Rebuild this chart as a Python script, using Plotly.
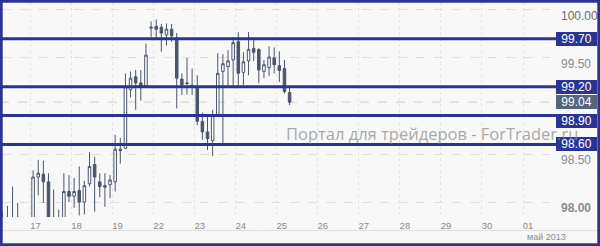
import plotly.graph_objects as go

# ---------------- data ----------------
OPEN = [97.82, 97.76, 97.80, 97.82, 97.78, 97.68, 97.76, 98.26, 98.29, 98.21,
        97.80, 97.78, 97.75, 98.11, 98.06, 98.12, 98.00, 98.19, 98.39, 98.21,
        98.17, 98.18, 98.21, 98.55, 98.56, 99.17, 99.305, 99.24, 99.21, 99.81,
        99.83, 99.82, 99.74, 99.80, 99.71, 99.28, 99.24, 99.215, 99.20, 98.84,
        98.73, 98.64, 98.90, 99.36, 99.41, 99.48, 99.67, 99.35, 99.47, 99.60,
        99.59, 99.36, 99.40, 99.50, 99.42, 99.39, 99.14]
HIGH = [97.90, 97.96, 98.16, 97.99, 97.82, 97.80, 98.33, 98.44, 98.43, 98.30,
        98.13, 97.92, 98.30, 98.28, 98.25, 98.37, 98.22, 98.52, 98.47, 98.30,
        98.30, 98.28, 98.70, 98.67, 99.34, 99.36, 99.375, 99.375, 99.65, 99.88,
        99.90, 99.855, 99.86, 99.855, 99.76, 99.34, 99.50, 99.39, 99.32, 98.93,
        98.90, 98.96, 99.55, 99.54, 99.58, 99.715, 99.77, 99.56, 99.77, 99.70,
        99.60, 99.48, 99.62, 99.61, 99.57, 99.48, 99.19]
LOW = [97.70, 97.70, 97.74, 97.72, 97.62, 97.60, 97.72, 98.07, 97.99, 97.70,
       97.70, 97.66, 97.72, 98.00, 97.94, 97.86, 97.87, 98.16, 97.90, 98.05,
       97.95, 98.04, 98.11, 98.40, 98.55, 99.09, 98.96, 99.055, 99.20, 99.72,
       99.71, 99.565, 99.63, 99.67, 98.975, 99.115, 99.12, 99.115, 98.80, 98.65,
       98.54, 98.48, 98.89, 98.61, 99.21, 99.20, 99.20, 99.22, 99.32, 99.47,
       99.24, 99.29, 99.31, 99.34, 99.25, 99.13, 99.01]
CLOSE = [97.76, 97.80, 97.82, 97.78, 97.68, 97.76, 98.26, 98.30, 98.21, 97.80,
         97.78, 97.75, 98.11, 98.06, 98.11, 98.00, 98.17, 98.37, 98.26, 98.16,
         98.155, 98.23, 98.55, 98.535, 99.20, 99.29, 99.24, 99.21, 99.53, 99.82,
         99.80, 99.76, 99.80, 99.73, 99.29, 99.22, 99.235, 99.21, 98.84, 98.73,
         98.66, 98.90, 99.34, 99.44, 99.47, 99.66, 99.34, 99.46, 99.59, 99.56,
         99.375, 99.43, 99.51, 99.43, 99.37, 99.15, 99.04]

LEVELS = [99.70, 99.20, 98.90, 98.60]
DAY_LABELS = ["17", "18", "19", "22", "23", "24", "25", "26", "27", "28", "29", "30", "01"]
FIRST_DAY_START = 5.5       # candle-index position of the first day boundary
CANDLES_PER_DAY = 8
Y_TICKS = [98.0, 98.5, 99.5, 100.0]
Y_TICKTEXT = ["<b>98.00</b>", "98.50", "99.50", "<span style='color:#6e6e6e'>100.00</span>"]
MONTH_LABEL = "май 2013"
WATERMARK = "Портал для трейдеров - ForTrader.ru"

# ---------------- style ----------------
W, H = 600, 246
ML, MR, MT, MB = 2, 50, 2, 29
PW, PH = W - ML - MR, H - MT - MB
NAVY = "#2b3494"
CANDLE = "#4b566c"
BG = "#f8f8f8"


def px_x(p):
    return (p - ML) / PW


def px_y(p):
    return 1 - (p - MT) / PH


x = list(range(len(OPEN)))
tickvals = [FIRST_DAY_START + CANDLES_PER_DAY * i for i in range(len(DAY_LABELS))]

fig = go.Figure()
fig.add_trace(go.Candlestick(
    x=x, open=OPEN, high=HIGH, low=LOW, close=CLOSE,
    increasing=dict(line=dict(color=CANDLE, width=1), fillcolor="#ffffff"),
    decreasing=dict(line=dict(color=CANDLE, width=1), fillcolor=CANDLE),
    whiskerwidth=0, showlegend=False, hoverinfo="skip",
))

shapes = []
last = CLOSE[-1]
shapes.append(dict(type="line", xref="paper", yref="y", x0=px_x(0), x1=1,
                   y0=last, y1=last, line=dict(color="#d2d2bc", width=1, dash="dash"),
                   layer="below"))
for lv in LEVELS:
    shapes.append(dict(type="line", xref="paper", yref="y", x0=px_x(0), x1=px_x(557),
                       y0=lv, y1=lv, line=dict(color=NAVY, width=3), layer="above"))
shapes.append(dict(type="line", xref="paper", yref="paper", x0=px_x(0), x1=px_x(600),
                   y0=px_y(230.5), y1=px_y(230.5), line=dict(color="#e0e0e0", width=1)))
shapes.append(dict(type="rect", xref="paper", yref="paper", x0=px_x(1.2), x1=px_x(598.8),
                   y0=px_y(244.8), y1=px_y(1.2), line=dict(color=NAVY, width=3),
                   layer="above"))

annotations = []
label_shift = {98.90: -5}
for lv in LEVELS:
    annotations.append(dict(xref="paper", yref="y", x=1, y=lv, xanchor="left", yanchor="middle",
                            xshift=6, yshift=label_shift.get(lv, 0),
                            text=f"{lv:.2f}", showarrow=False, bgcolor=NAVY,
                            width=39, height=12, borderpad=1, borderwidth=0,
                            font=dict(family="Liberation Sans", size=12, color="#ffffff")))
annotations.append(dict(xref="paper", yref="y", x=1, y=last, xanchor="left", yanchor="middle",
                        xshift=6, text=f"{last:.2f}", showarrow=False, bgcolor="#56657b",
                        width=39, height=12, borderpad=1, borderwidth=0,
                        font=dict(family="Liberation Sans", size=12, color="#ffffff")))
annotations.append(dict(xref="paper", yref="paper", x=px_x(284), y=px_y(133),
                        xanchor="left", yanchor="middle", text=WATERMARK, showarrow=False,
                        font=dict(family="Open Sans", size=16.5, color="rgba(140,140,140,0.75)")))
annotations.append(dict(xref="paper", yref="paper", x=px_x(525), y=px_y(237),
                        xanchor="left", yanchor="middle", text=MONTH_LABEL, showarrow=False,
                        font=dict(family="Liberation Sans", size=9, color="#8a8a8a")))

fig.update_layout(
    width=W, height=H,
    margin=dict(l=ML, r=MR, t=MT, b=MB, pad=0),
    paper_bgcolor=BG, plot_bgcolor=BG,
    shapes=shapes, annotations=annotations,
    showlegend=False,
    xaxis=dict(
        type="linear", range=[-0.06, 106.76], rangeslider=dict(visible=False),
        tickmode="array", tickvals=tickvals, ticktext=DAY_LABELS,
        showgrid=True, gridcolor="#e4e4e4", griddash="dot", gridwidth=1,
        zeroline=False, showline=False, ticks="",
        tickfont=dict(family="Liberation Sans", size=9.5, color="#8a8a8a"),
        ticklabelshift=5, ticklabelstandoff=1,
    ),
    yaxis=dict(
        side="right", range=[97.844, 100.083],
        tickmode="array", tickvals=Y_TICKS, ticktext=Y_TICKTEXT,
        showgrid=True, gridcolor="#e0e0d2", griddash="dash", gridwidth=1,
        zeroline=False, showline=False, ticks="",
        tickfont=dict(family="Liberation Sans", size=12, color="#8c8c8c"),
        ticklabelshift=6, ticklabelstandoff=10,
    ),
)

fig.write_html("out.html")
